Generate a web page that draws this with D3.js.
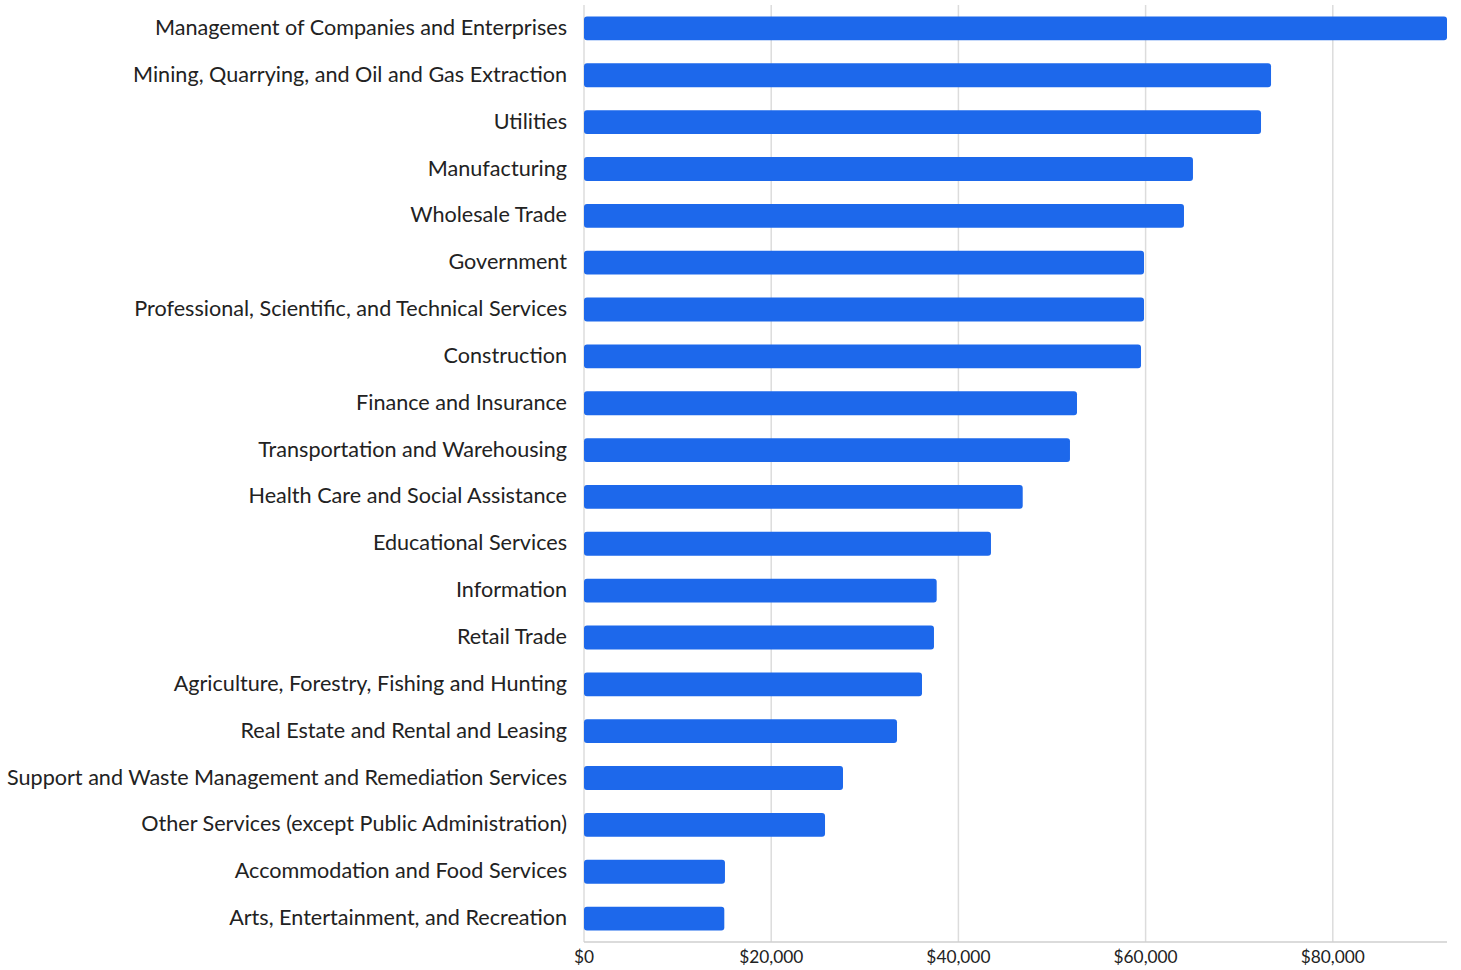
<!DOCTYPE html>
<html>
<head>
<meta charset="utf-8">
<script src="https://cdn.jsdelivr.net/npm/d3@7"></script>
<style>
  body { margin: 0; background: #fff; }
  text { font-family: Lato, sans-serif; fill: #222; }
</style>
</head>
<body>
<div id="chart"></div>
<script>
const industries = [
  "Management of Companies and Enterprises",
  "Mining, Quarrying, and Oil and Gas Extraction",
  "Utilities",
  "Manufacturing",
  "Wholesale Trade",
  "Government",
  "Professional, Scientific, and Technical Services",
  "Construction",
  "Finance and Insurance",
  "Transportation and Warehousing",
  "Health Care and Social Assistance",
  "Educational Services",
  "Information",
  "Retail Trade",
  "Agriculture, Forestry, Fishing and Hunting",
  "Real Estate and Rental and Leasing",
  "Support and Waste Management and Remediation Services",
  "Other Services (except Public Administration)",
  "Accommodation and Food Services",
  "Arts, Entertainment, and Recreation"
];
const wages = [
  92200, 73400, 72330, 65060, 64100, 59830, 59830, 59510, 52670, 51920,
  46870, 43480, 37680, 37390, 36110, 33440, 27670, 25750, 15060, 14990
];
const tickValues = [0, 20000, 40000, 60000, 80000];

const W = 1461, H = 970;
const margin = {top: 5, right: 14, bottom: 28, left: 584};
const width = W - margin.left - margin.right,
      height = H - margin.top - margin.bottom;

const svg = d3.select("#chart").append("svg")
  .attr("width", W).attr("height", H);
const g = svg.append("g").attr("transform", `translate(${margin.left},${margin.top})`);

const x = d3.scaleLinear().domain([0, 92200]).range([0, width]);
const y = d3.scaleBand().domain(industries).range([0, height])
  .paddingInner(0.49).paddingOuter(0.245);

// gridlines
g.selectAll(".grid").data(tickValues).join("line")
  .attr("x1", d => x(d)).attr("x2", d => x(d))
  .attr("y1", 0).attr("y2", height)
  .attr("stroke", "#dcdcdc").attr("stroke-width", 1.5);

// bars
g.selectAll(".bar").data(industries).join("rect")
  .attr("x", x(0))
  .attr("y", d => y(d))
  .attr("width", (d, i) => x(wages[i]) - x(0))
  .attr("height", y.bandwidth())
  .attr("rx", 3)
  .attr("fill", "#1d68eb");

// baseline
g.append("line")
  .attr("x1", 0).attr("x2", width)
  .attr("y1", height).attr("y2", height)
  .attr("stroke", "#cfcfcf").attr("stroke-width", 1.5);

// x tick labels
g.selectAll(".xt").data(tickValues).join("text")
  .attr("x", d => x(d)).attr("y", height + 21)
  .attr("text-anchor", "middle")
  .style("font-size", "17.3px")
  .text(d => d3.format("$,")(d));

// category labels
g.selectAll(".cat").data(industries).join("text")
  .attr("x", -17)
  .attr("y", d => y(d) + y.bandwidth() / 2 - 1)
  .attr("dy", "0.35em")
  .attr("text-anchor", "end")
  .style("font-size", "21.6px")
  .text(d => d);
</script>
</body>
</html>
